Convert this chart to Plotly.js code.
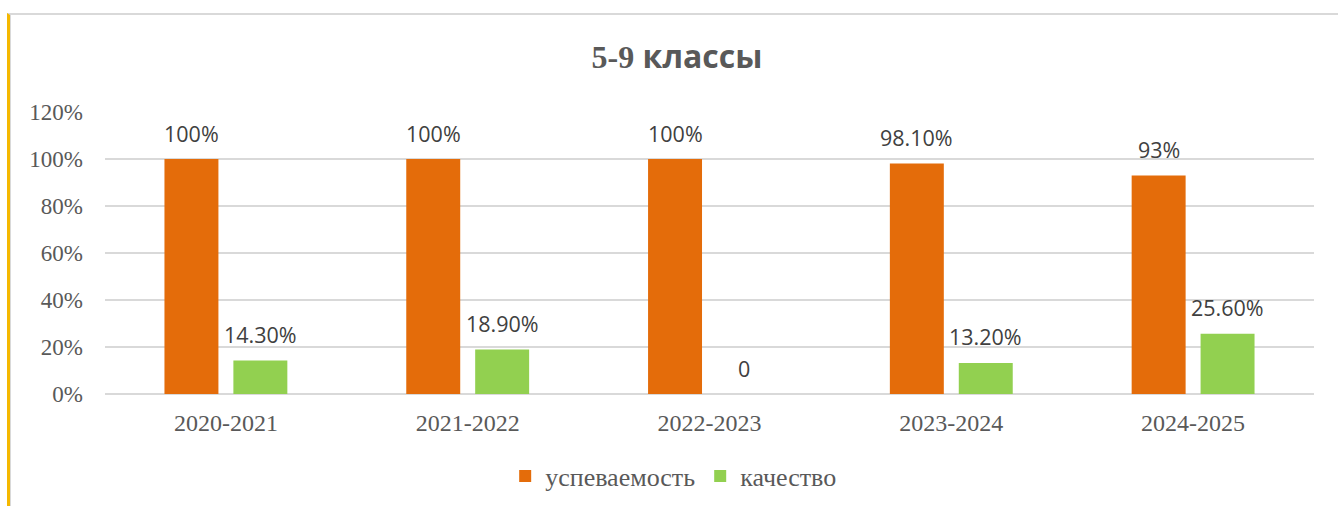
<!DOCTYPE html>
<html>
<head>
<meta charset="utf-8">
<script src="https://cdn.plot.ly/plotly-3.0.1.min.js"></script>
<style>
  html, body { margin: 0; padding: 0; background: #ffffff; }
  #frame { position: absolute; left: 7px; top: 13px; width: 1331px; height: 493px;
           border-left: 3px solid #F5B800; border-top: 2px solid #D9D9D9; box-sizing: border-box; }
  #frame2 { position: absolute; left: 10px; top: 13px; width: 1px; height: 493px; background: #D9D9D9; }
  #chart { position: absolute; left: 0; top: 0; width: 1338px; height: 506px; }
</style>
</head>
<body>
<div id="frame"></div>
<div id="frame2"></div>
<div id="chart"></div>
<script>
const categories = ['2020-2021', '2021-2022', '2022-2023', '2023-2024', '2024-2025'];
const uspevValues = [100, 100, 100, 98.1, 93];
const kachValues = [14.3, 18.9, 0, 13.2, 25.6];
const uspevLabels = ['100%', '100%', '100%', '98.10%', '93%'];
const kachLabels = ['14.30%', '18.90%', '0', '13.20%', '25.60%'];
const yTickValues = [0, 20, 40, 60, 80, 100, 120];
const yTickLabels = ['0%', '20%', '40%', '60%', '80%', '100%', '120%'];
const seriesNames = ['успеваемость', 'качество'];

const serif = '"Liberation Serif", "Times New Roman", serif';
const sans = '"Open Sans", "Noto Sans", sans-serif';

const traces = [
  { type: 'bar', name: seriesNames[0], x: categories, y: uspevValues,
    marker: { color: '#E46C0A' }, hoverinfo: 'none' },
  { type: 'bar', name: seriesNames[1], x: categories, y: kachValues,
    marker: { color: '#92D050' }, hoverinfo: 'none' }
];

const annotations = [];
categories.forEach((c, i) => {
  annotations.push({ x: c, y: uspevValues[i], text: uspevLabels[i], xref: 'x', yref: 'y',
    showarrow: false, xshift: -34.5, yshift: 26, yanchor: 'middle',
    font: { family: sans, size: 21.5, color: '#404040' } });
  annotations.push({ x: c, y: kachValues[i], text: kachLabels[i], xref: 'x', yref: 'y',
    showarrow: false, xshift: 34.5, yshift: 26, yanchor: 'middle',
    font: { family: sans, size: 21.5, color: '#404040' } });
});

const layout = {
  width: 1338, height: 506,
  margin: { l: 105, r: 24, t: 112, b: 112 },
  paper_bgcolor: 'rgba(0,0,0,0)', plot_bgcolor: 'rgba(0,0,0,0)',
  barmode: 'group', bargap: 0.43, bargroupgap: 0.217,
  title: { text: "<span style=\"font-family:'Liberation Serif', serif\">5-9</span> классы",
    font: { family: sans, size: 32, color: '#595959', weight: 'bold' },
    x: 0.506, xanchor: 'center', y: 1 - 57 / 506, yanchor: 'middle', yref: 'container' },
  xaxis: { type: 'category', showgrid: false, zeroline: false, showline: false,
    ticks: '', tickfont: { family: serif, size: 24, color: '#595959' }, ticklabelstandoff: 12 },
  yaxis: { range: [0, 120], tickvals: yTickValues, ticktext: yTickLabels,
    showgrid: true, gridcolor: '#D9D9D9', gridwidth: 1.5, zeroline: true, zerolinecolor: '#D9D9D9', zerolinewidth: 1.5,
    showline: false, ticks: '', tickfont: { family: serif, size: 23, color: '#595959' }, ticklabelstandoff: 21 },
  showlegend: true,
  legend: { orientation: 'h', x: 0.331, xanchor: 'left', y: 1 - 476 / 506, yref: 'container', yanchor: 'middle',
    font: { family: serif, size: 26, color: '#595959' }, bgcolor: 'rgba(0,0,0,0)' },
  annotations: annotations
};

Plotly.newPlot('chart', traces, layout, { displayModeBar: false, staticPlot: true });
</script>
</body>
</html>
